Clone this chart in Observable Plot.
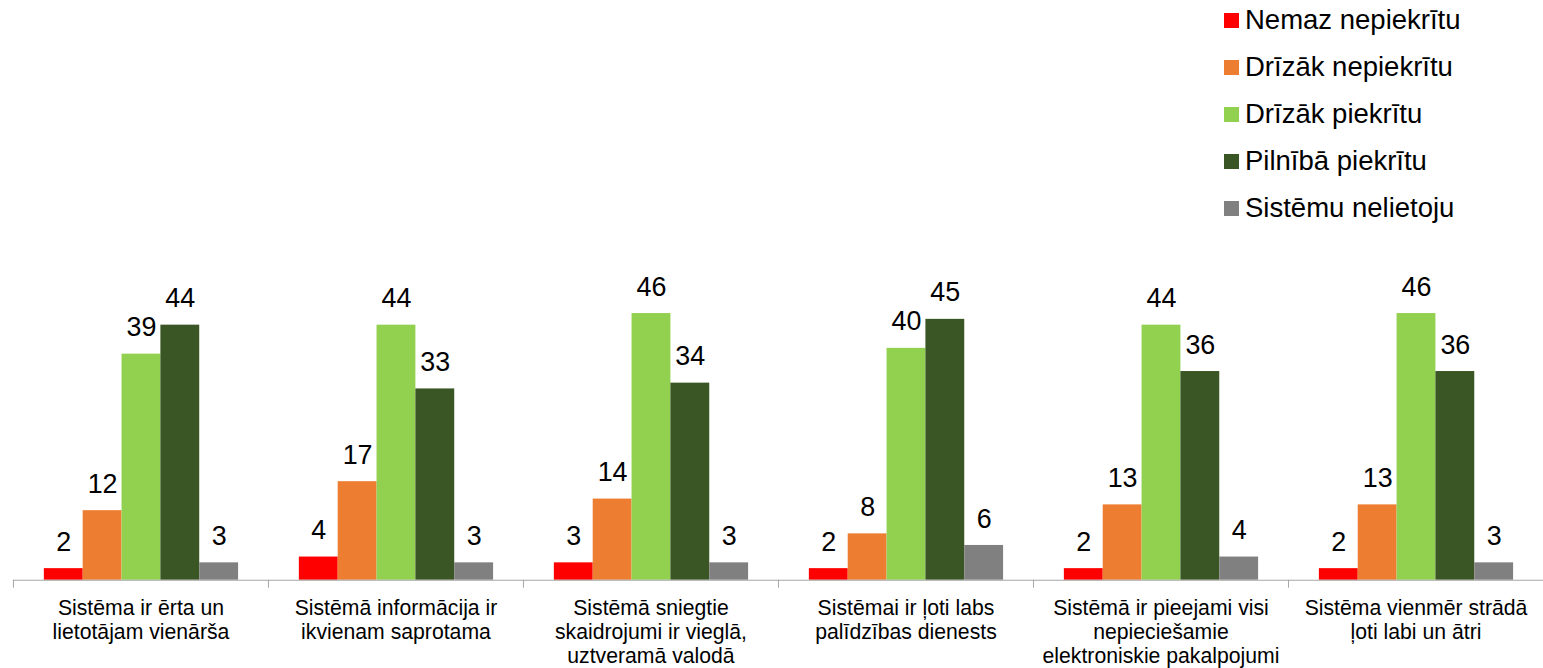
<!DOCTYPE html>
<html>
<head>
<meta charset="utf-8">
<script src="https://cdn.jsdelivr.net/npm/d3@7"></script>
<script src="https://cdn.jsdelivr.net/npm/@observablehq/plot@0.6"></script>
<style>
  html, body { margin: 0; padding: 0; background: #fff; overflow: hidden; }
  #wrap { position: relative; width: 1543px; height: 668px; overflow: hidden; font-family: "Liberation Sans", Arial, sans-serif; }
  #wrap svg { display: block; }
  #legend { position: absolute; left: 1224px; top: -3.5px; }
  .row { display: flex; align-items: center; height: 47px; font-size: 27.5px; color: #000; white-space: nowrap; }
  .sw { width: 15px; height: 15px; margin-right: 6px; flex: none; }
</style>
</head>
<body>
<div id="wrap"><div id="legend"></div></div>
<script>
const categories = [
  "Sistēma ir ērta un\nlietotājam vienārša",
  "Sistēmā informācija ir\nikvienam saprotama",
  "Sistēmā sniegtie\nskaidrojumi ir vieglā,\nuztveramā valodā",
  "Sistēmai ir ļoti labs\npalīdzības dienests",
  "Sistēmā ir pieejami visi\nnepieciešamie\nelektroniskie pakalpojumi",
  "Sistēma vienmēr strādā\nļoti labi un ātri"
];
const series = ["Nemaz nepiekrītu", "Drīzāk nepiekrītu", "Drīzāk piekrītu", "Pilnībā piekrītu", "Sistēmu nelietoju"];
const colors = ["#ff0000", "#ed7d31", "#92d050", "#3a5624", "#808080"];
const nemaz     = [2, 4, 3, 2, 2, 2];
const drizakNe  = [12, 17, 14, 8, 13, 13];
const drizakPie = [39, 44, 46, 40, 44, 46];
const pilniba   = [44, 33, 34, 45, 36, 36];
const nelietoju = [3, 3, 3, 6, 4, 3];

const valuesBySeries = [nemaz, drizakNe, drizakPie, pilniba, nelietoju];
const data = [];
categories.forEach((c, i) => series.forEach((s, j) => data.push({category: c, series: s, value: valuesBySeries[j][i]})));

const width = 1549, marginLeft = 13, marginRight = 0;
const step = (width - marginLeft - marginRight) / categories.length;
const font = "Liberation Sans, Arial, sans-serif";

const chart = Plot.plot({
  width, height: 668,
  marginLeft, marginRight, marginTop: 291, marginBottom: 86,
  style: {fontFamily: font, background: "white", overflow: "visible"},
  fx: {domain: categories, padding: 0, label: null},
  x: {domain: series, paddingInner: 0, paddingOuter: 0.755, axis: null},
  y: {domain: [0, 50], axis: null},
  color: {domain: series, range: colors},
  marks: [
    Plot.barY(data, {fx: "category", x: "series", y: "value", fill: "series"}),
    Plot.ruleY([0], {stroke: "#a6a6a6", strokeWidth: 1.2}),
    Plot.text(data, {fx: "category", x: "series", y: "value", text: d => String(d.value), dy: -26.6, fontSize: 27, fill: "#000"}),
    Plot.axisFx({anchor: "bottom", tickSize: 0, tickPadding: 18, fontSize: 21.3, lineHeight: 1.13, fill: "#000", label: null}),
    Plot.axisFx({anchor: "bottom", tickSize: 8, tickFormat: () => "", dx: -step / 2, stroke: "#a6a6a6", label: null})
  ]
});
document.getElementById("wrap").prepend(chart);

const legend = document.getElementById("legend");
series.forEach((s, j) => {
  const row = document.createElement("div");
  row.className = "row";
  const sw = document.createElement("div");
  sw.className = "sw";
  sw.style.background = colors[j];
  const t = document.createElement("span");
  t.textContent = s;
  row.append(sw, t);
  legend.append(row);
});
</script>
</body>
</html>
